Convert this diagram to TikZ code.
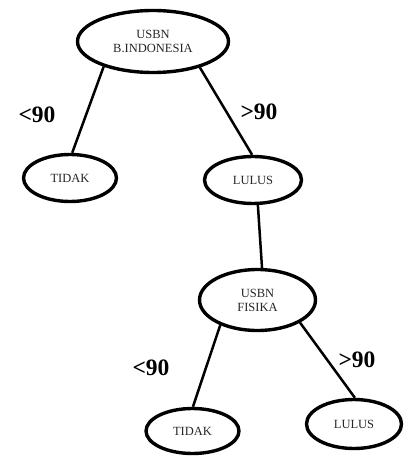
\documentclass[tikz,border=0pt]{standalone}
\usepackage{fontspec}
\setmainfont{Liberation Serif}
\usetikzlibrary{shapes.geometric}
\begin{document}
\begin{tikzpicture}[x=1pt,y=-1pt,
  oval/.style={ellipse,draw,line width=3.4pt,inner sep=0pt,align=center,
    font=\fontsize{12.5}{14}\selectfont,text=black!85},
  edge/.style={line width=2.5pt},
  cond/.style={font=\bfseries\fontsize{23.5}{26}\selectfont}]
\useasboundingbox (0,0) rectangle (404,457);
\node[oval,minimum width=151pt,minimum height=62pt] (root) at (153,41.5) {USBN\\B.INDONESIA};
\node[oval,minimum width=93pt,minimum height=47pt] (t1) at (70,178) {TIDAK};
\node[oval,minimum width=97pt,minimum height=47pt] (l1) at (253,180) {LULUS};
\node[oval,minimum width=116pt,minimum height=61pt] (fis) at (257.5,300) {USBN\\FISIKA};
\node[oval,minimum width=93pt,minimum height=45pt] (t2) at (192.5,431) {TIDAK};
\node[oval,minimum width=95pt,minimum height=49pt] (l2) at (354,424) {LULUS};
\draw[edge] (root.207) -- (t1.85);
\draw[edge] (root.331) -- (l1.92);
\draw[edge] (l1.281) -- (fis.82);
\draw[edge] (fis.214) -- (t2.89);
\draw[edge] (fis.332) -- (l2.88);
\node[cond] (c1) at (37,115) {<90};
\node[cond] (c2) at (259,112) {>90};
\node[cond] (c3) at (151,368) {<90};
\node[cond] (c4) at (357,360) {>90};
\end{tikzpicture}
\end{document}
